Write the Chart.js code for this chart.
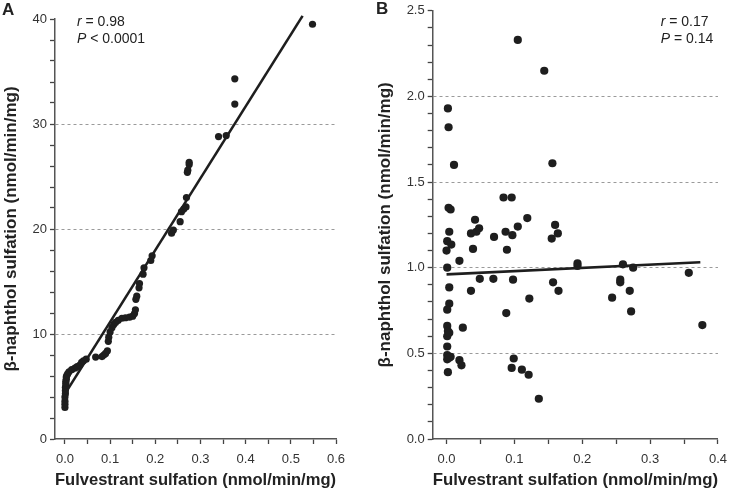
<!DOCTYPE html>
<html>
<head>
<meta charset="utf-8">
<script src="https://cdn.jsdelivr.net/npm/chart.js@4.4.1/dist/chart.umd.min.js"></script>
<style>
  body { margin: 0; background: #fff; }
  #wrap { position: relative; width: 731px; height: 491px; }
  canvas { position: absolute; top: 0; }
</style>
</head>
<body>
<div id="wrap">
  <canvas id="chartA" width="365" height="491" style="left:0"></canvas>
  <canvas id="chartB" width="366" height="491" style="left:365px"></canvas>
</div>
<script>
// panel A: fulvestrant vs beta-naphthol sulfation (r = 0.98)
const aFulvestrant = [
  0, 0, 0, 0, 0.001, 0.001, 0.001, 0.002, 0.002, 0.002, 0.003, 0.003,
  0.004, 0.006, 0.009, 0.015, 0.022, 0.027, 0.033, 0.037, 0.041, 0.047,
  0.068, 0.082, 0.086, 0.090, 0.094, 0.096, 0.097, 0.100, 0.104, 0.108,
  0.112, 0.118, 0.126, 0.134, 0.143, 0.150, 0.154, 0.156, 0.157, 0.159,
  0.164, 0.165, 0.173, 0.175, 0.190, 0.193, 0.236, 0.240, 0.255, 0.258,
  0.263, 0.268, 0.269, 0.271, 0.272, 0.275, 0.275, 0.340, 0.357, 0.376,
  0.376, 0.548
];
const aNaphthol = [
  3.0, 3.3, 3.6, 4.0, 4.3, 4.6, 4.9, 5.1, 5.3, 5.5, 5.7, 5.9,
  6.05, 6.2, 6.4, 6.6, 6.75, 6.9, 7.05, 7.3, 7.45, 7.6,
  7.8, 7.85, 8.0, 8.15, 8.4, 9.3, 9.7, 10.2, 10.6, 10.9,
  11.1, 11.3, 11.5, 11.55, 11.6, 11.7, 11.95, 12.3, 13.3, 13.6,
  14.4, 14.8, 15.7, 16.3, 17.0, 17.45, 19.6, 19.9, 20.7, 21.65,
  21.9, 22.1, 23.0, 25.4, 25.6, 26.15, 26.35, 28.8, 28.9, 31.9,
  34.3, 39.5
];
const aFitX = [0, 0.526];
const aFitY = [4.3, 40.3];
const aXTicks = [0, 0.05, 0.1, 0.15, 0.2, 0.25, 0.3, 0.35, 0.4, 0.45, 0.5, 0.55, 0.6];
const aXLabels = [0, 0.1, 0.2, 0.3, 0.4, 0.5, 0.6];
const aYTicks = [0, 2, 4, 6, 8, 10, 12, 14, 16, 18, 20, 22, 24, 26, 28, 30, 32, 34, 36, 38, 40];
const aYLabels = [0, 10, 20, 30, 40];
const aYGrid = [10, 20, 30];

// panel B: fulvestrant vs beta-naphthol sulfation (r = 0.17)
const bFulvestrant = [
  0.002, 0.003, 0.011, 0.105, 0.144, 0.156, 0.084, 0.096, 0.003, 0.006,
  0.042, 0.119, 0.160, 0.164, 0.155, 0.004, 0.036, 0.044, 0.048, 0.070,
  0.087, 0.097, 0.105, 0.001, 0.007, 0.000, 0.039, 0.089, 0.019, 0.001,
  0.193, 0.193, 0.260, 0.275, 0.357, 0.377, 0.004, 0.049, 0.069, 0.098,
  0.036, 0.157, 0.165, 0.122, 0.088, 0.256, 0.256, 0.244, 0.270, 0.272,
  0.004, 0.001, 0.024, 0.001, 0.002, 0.001, 0.004, 0.001, 0.001, 0.006,
  0.001, 0.004, 0.002, 0.019, 0.022, 0.099, 0.096, 0.111, 0.121, 0.136
];
const bNaphthol = [
  1.93, 1.82, 1.60, 2.33, 2.15, 1.61, 1.41, 1.41, 1.35, 1.34,
  1.28, 1.29, 1.25, 1.20, 1.17, 1.21, 1.20, 1.21, 1.23, 1.18,
  1.21, 1.19, 1.24, 1.155, 1.135, 1.10, 1.11, 1.105, 1.04, 1.00,
  1.025, 1.01, 1.02, 1.00, 0.97, 0.665, 0.885, 0.935, 0.935, 0.93,
  0.865, 0.915, 0.865, 0.82, 0.735, 0.93, 0.915, 0.825, 0.865, 0.745,
  0.79, 0.755, 0.65, 0.66, 0.63, 0.60, 0.62, 0.54, 0.49, 0.48,
  0.465, 0.475, 0.39, 0.46, 0.43, 0.47, 0.415, 0.405, 0.375, 0.235
];
const bFitX = [0, 0.374];
const bFitY = [0.961, 1.032];
const bXTicks = [0, 0.05, 0.1, 0.15, 0.2, 0.25, 0.3, 0.35, 0.4];
const bXLabels = [0, 0.1, 0.2, 0.3, 0.4];
const bYTicks = [0, 0.1, 0.2, 0.3, 0.4, 0.5, 0.6, 0.7, 0.8, 0.9, 1.0, 1.1, 1.2, 1.3, 1.4, 1.5, 1.6, 1.7, 1.8, 1.9, 2.0, 2.1, 2.2, 2.3, 2.4, 2.5];
const bYLabels = [0, 0.5, 1.0, 1.5, 2.0, 2.5];
const bYGrid = [0.5, 1.0, 1.5, 2.0];

const FONT = "'Liberation Sans', Arial, Helvetica, sans-serif";
const INK = "#1e1e1e";

function has(list, v) {
  return list.some((t) => Math.abs(t - v) < 1e-9);
}

function zip(xs, ys) {
  return xs.map((x, i) => ({ x: x, y: ys[i] }));
}

// draws the panel letter and the r / P note
const notesPlugin = {
  id: "notes",
  afterDraw(chart, args, opts) {
    const ctx = chart.ctx;
    ctx.save();
    ctx.fillStyle = "#222";
    ctx.textBaseline = "middle";
    ctx.font = "bold 17px " + FONT;
    ctx.fillText(opts.letter, opts.letterX, opts.letterY);
    opts.lines.forEach((ln, i) => {
      let x = opts.x;
      const y = opts.y + i * opts.gap;
      ctx.font = "italic 14px " + FONT;
      ctx.fillText(ln[0], x, y);
      x += ctx.measureText(ln[0]).width;
      ctx.font = "14px " + FONT;
      ctx.fillText(ln[1], x, y);
    });
    ctx.restore();
  },
};

function makePanel(id, p) {
  const ctx = document.getElementById(id).getContext("2d");
  return new Chart(ctx, {
    type: "scatter",
    data: {
      datasets: [
        {
          type: "line",
          data: zip(p.fitX, p.fitY),
          borderColor: INK,
          borderWidth: 2.6,
          pointRadius: 0,
          fill: false,
          clip: 6,
        },
        {
          data: zip(p.xs, p.ys),
          backgroundColor: INK,
          borderWidth: 0,
          pointRadius: p.radius,
          pointHoverRadius: p.radius,
          clip: 6,
        },
      ],
    },
    options: {
      responsive: false,
      animation: false,
      devicePixelRatio: 1,
      layout: { padding: p.padding },
      plugins: {
        legend: { display: false },
        tooltip: { enabled: false },
        notes: p.notes,
      },
      scales: {
        x: {
          type: "linear",
          min: p.xMin,
          max: p.xMax,
          afterBuildTicks: (s) => {
            s.ticks = p.xTicks.map((v) => ({ value: v }));
          },
          afterFit: (s) => {
            s.height = 52;
          },
          ticks: {
            autoSkip: false,
            maxRotation: 0,
            padding: 4,
            color: "#333",
            font: { family: FONT, size: 13, lineHeight: 1.7 },
            callback: (v) => (has(p.xLabels, v) ? v.toFixed(1) : ""),
          },
          grid: {
            drawOnChartArea: false,
            tickLength: 5,
            tickColor: "#444",
            tickWidth: 1.3,
          },
          border: { color: "#555", width: 1.5 },
          title: {
            display: true,
            text: "Fulvestrant sulfation (nmol/min/mg)",
            color: "#222",
            font: { family: FONT, size: 17, weight: "bold" },
            padding: { top: 0, bottom: 0 },
          },
        },
        y: {
          type: "linear",
          min: p.yMin,
          max: p.yMax,
          afterBuildTicks: (s) => {
            s.ticks = p.yTicks.map((v) => ({ value: v }));
          },
          afterFit: (s) => {
            s.width = p.yWidth;
          },
          ticks: {
            autoSkip: false,
            padding: 3,
            color: "#333",
            font: { family: FONT, size: 13 },
            callback: (v) =>
              has(p.yLabels, v) ? v.toFixed(p.yDigits) : "",
          },
          grid: {
            color: (c) =>
              c.tick && has(p.yGrid, c.tick.value) ? "#9a9a9a" : "rgba(0,0,0,0)",
            lineWidth: 1,
            tickLength: 5,
            tickColor: "#444",
            tickWidth: 1.3,
            tickBorderDash: [],
          },
          border: { color: "#555", width: 1.5, dash: [3, 3] },
          title: {
            display: true,
            text: "β-naphthol sulfation (nmol/min/mg)",
            color: "#222",
            font: { family: FONT, size: 17, weight: "bold" },
            padding: { top: p.yTitlePad, bottom: 0 },
          },
        },
      },
    },
    plugins: [notesPlugin],
  });
}

makePanel("chartA", {
  xs: aFulvestrant,
  ys: aNaphthol,
  fitX: aFitX,
  fitY: aFitY,
  radius: 3.6,
  xMin: -0.022,
  xMax: 0.6,
  xTicks: aXTicks,
  xLabels: aXLabels,
  yMin: 0,
  yMax: 40,
  yTicks: aYTicks,
  yLabels: aYLabels,
  yGrid: aYGrid,
  yDigits: 0,
  yWidth: 55,
  yTitlePad: 1,
  padding: { left: 0, top: 19, right: 29, bottom: 0 },
  notes: {
    letter: "A",
    letterX: 2,
    letterY: 10,
    x: 77,
    y: 22.5,
    gap: 16.5,
    lines: [["r", " = 0.98"], ["P", " < 0.0001"]],
  },
});

makePanel("chartB", {
  xs: bFulvestrant,
  ys: bNaphthol,
  fitX: bFitX,
  fitY: bFitY,
  radius: 4.1,
  xMin: -0.0204,
  xMax: 0.4,
  xTicks: bXTicks,
  xLabels: bXLabels,
  yMin: 0,
  yMax: 2.5,
  yTicks: bYTicks,
  yLabels: bYLabels,
  yGrid: bYGrid,
  yDigits: 1,
  yWidth: 67.7,
  yTitlePad: 10,
  padding: { left: 0, top: 7, right: 10, bottom: 0 },
  notes: {
    letter: "B",
    letterX: 11,
    letterY: 9,
    x: 295.7,
    y: 22.5,
    gap: 16.5,
    lines: [["r", " = 0.17"], ["P", " = 0.14"]],
  },
});
</script>
</body>
</html>
